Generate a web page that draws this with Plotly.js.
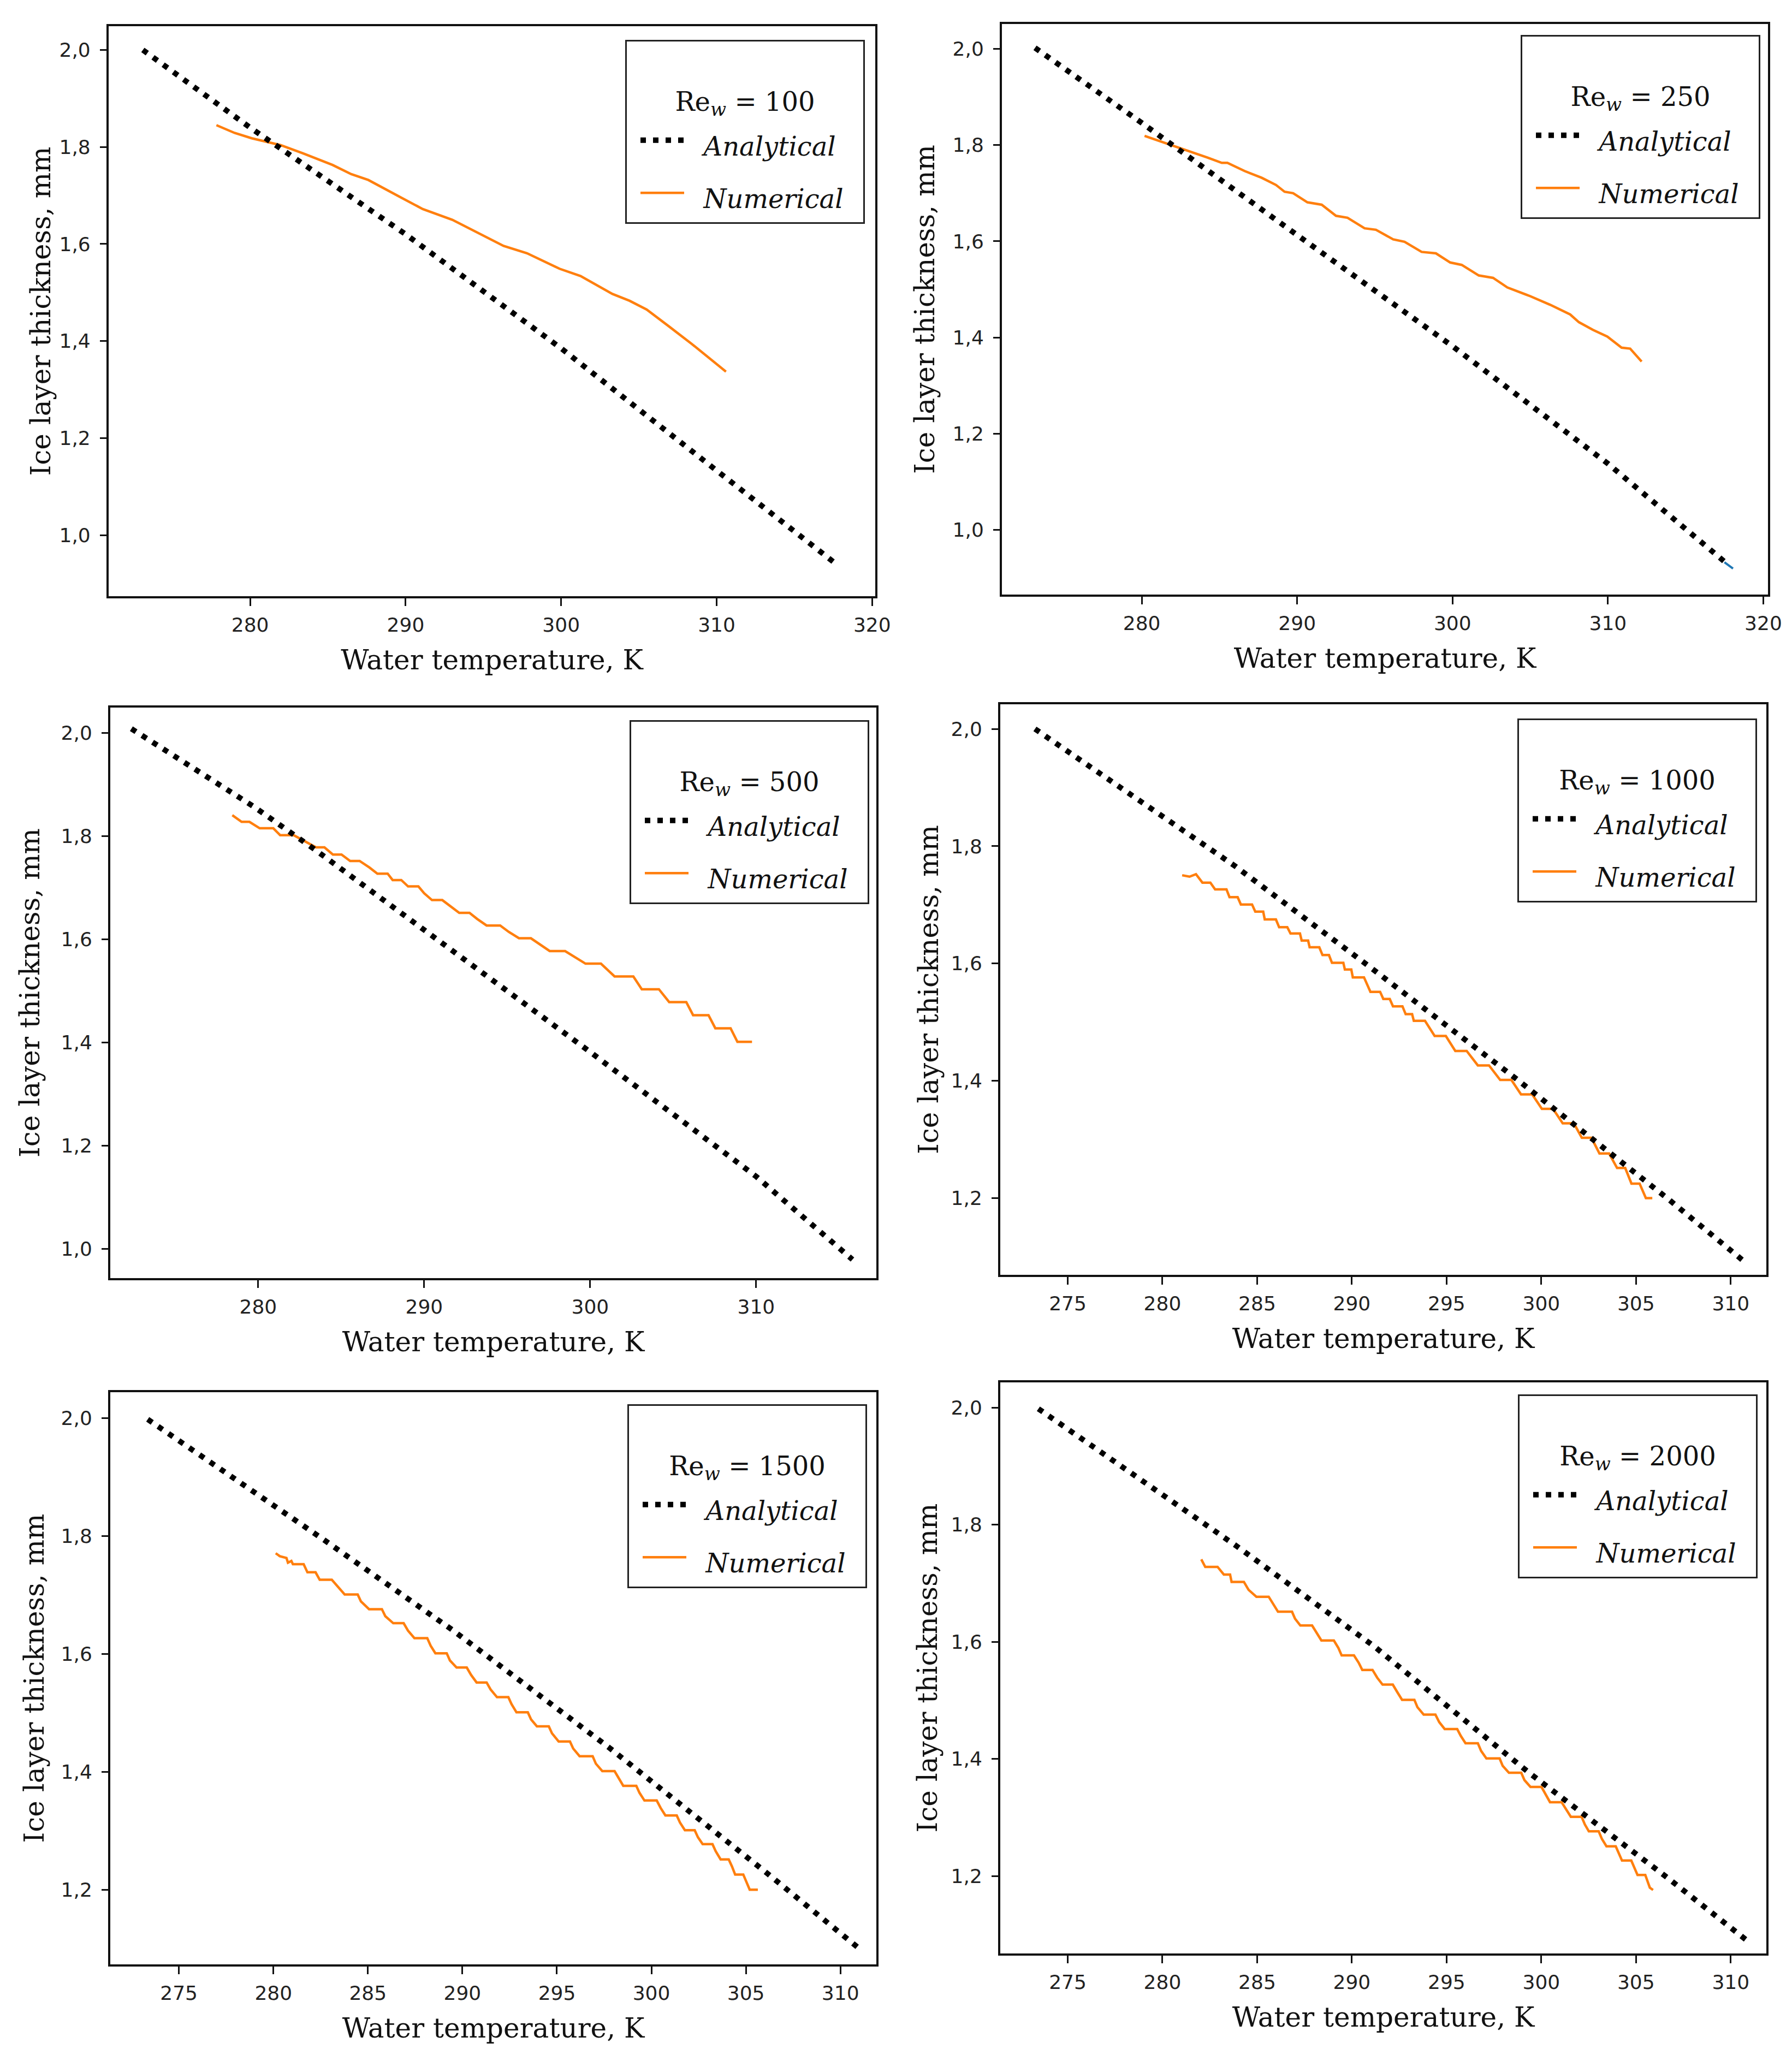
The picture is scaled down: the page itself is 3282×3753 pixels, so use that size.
<!DOCTYPE html>
<html><head><meta charset="utf-8">
<script src="https://cdn.plot.ly/plotly-3.0.1.min.js"></script>
<style>html,body{margin:0;padding:0;background:#fff}#chart{width:3282px;height:3753px}</style>
</head><body><div id="chart"></div>
<script>
// ---------- data ----------
const reynolds = [100, 250, 500, 1000, 1500, 2000];

// Analytical solutions (dotted black)
const anaX1 = [273.1, 280, 290, 300, 310, 317.7];
const anaY1 = [2.0, 1.84, 1.62, 1.385, 1.133, 0.94];
const anaX2 = [273.13, 280, 290, 300, 310, 317.7];
const anaY2 = [2.002, 1.846, 1.613, 1.382, 1.138, 0.929];
const anaX3 = [272.36, 279.78, 283.38, 289.85, 295.81, 299.93, 310, 315.8];
const anaY3 = [2.008, 1.856, 1.7745, 1.621, 1.48, 1.383, 1.14, 0.979];
const anaX4 = [273.27, 283.88, 290.98, 298.68, 306.71, 310.7];
const anaY4 = [2.0, 1.765, 1.5933, 1.4032, 1.198, 1.092];
const anaX5 = [273.35, 282.66, 289.51, 297.74, 306.14, 311.1];
const anaY5 = [1.998, 1.794, 1.64, 1.442, 1.228, 1.098];
const anaX6 = [273.45, 283.98, 291.17, 299.35, 306.71, 310.9];
const anaY6 = [1.998, 1.762, 1.5925, 1.3766, 1.196, 1.089];

// small blue remnant visible at the end of the analytical curve, Re = 250
const blueTailX2 = [317.5, 318.05];
const blueTailY2 = [0.933, 0.92];

// Numerical solutions (solid orange)
const numX1 = [277.83, 279.0, 280.1, 281.95, 283.4, 285.3, 286.5, 287.6, 289.7, 291.1, 293.0, 294.4, 296.3, 297.8, 299.9, 301.25, 303.3, 304.4, 305.5, 306.9, 308.4, 310.6];
const numY1 = [1.845, 1.829, 1.818, 1.804, 1.787, 1.763, 1.744, 1.732, 1.696, 1.672, 1.65, 1.627, 1.596, 1.581, 1.549, 1.534, 1.497, 1.483, 1.465, 1.431, 1.394, 1.337];

const numX2 = [280.18, 281.47, 282.94, 284.23, 285.15, 285.51, 286.62, 287.72, 288.64, 289.19, 289.74, 290.66, 291.58, 292.5, 293.24, 294.34, 295.07, 296.18, 296.91, 298.01, 298.93, 299.85, 300.59, 301.69, 302.61, 303.53, 305.0, 306.29, 307.57, 308.13, 309.04, 309.96, 310.88, 311.43, 312.17];
const numY2 = [1.819, 1.805, 1.789, 1.774, 1.763, 1.763, 1.746, 1.732, 1.717, 1.703, 1.7, 1.681, 1.676, 1.653, 1.649, 1.627, 1.624, 1.604, 1.599, 1.578, 1.575, 1.556, 1.551, 1.529, 1.524, 1.504, 1.486, 1.468, 1.448, 1.432, 1.416, 1.402, 1.379, 1.377, 1.35];

const numX3 = [278.44, 279.0, 279.47, 280.09, 280.91, 281.32, 282.14, 282.8, 283.48, 283.99, 284.5, 285.02, 285.54, 286.11, 286.7, 287.18, 287.8, 288.1, 288.62, 289.03, 289.65, 290.0, 290.47, 291.09, 291.6, 292.11, 292.73, 293.2, 293.76, 294.58, 295.1, 295.71, 296.43, 297.0, 297.56, 298.49, 299.1, 299.72, 300.65, 301.47, 302.6, 303.11, 304.14, 304.76, 305.79, 306.2, 307.13, 307.54, 308.46, 308.87, 309.75];
const numY3 = [1.8404, 1.8274, 1.8274, 1.815, 1.815, 1.8017, 1.8017, 1.79, 1.778, 1.778, 1.764, 1.764, 1.7516, 1.7516, 1.739, 1.727, 1.727, 1.7146, 1.7146, 1.7023, 1.7023, 1.689, 1.6758, 1.6758, 1.663, 1.651, 1.651, 1.639, 1.6265, 1.6265, 1.614, 1.6018, 1.6018, 1.589, 1.577, 1.577, 1.565, 1.5525, 1.5525, 1.5278, 1.5278, 1.503, 1.503, 1.478, 1.478, 1.4527, 1.4527, 1.4273, 1.4273, 1.401, 1.401];

const numX4 = [281.04, 281.43, 281.77, 282.11, 282.53, 282.78, 283.38, 283.54, 283.97, 284.14, 284.73, 284.9, 285.32, 285.4, 285.99, 286.16, 286.59, 286.76, 287.26, 287.35, 287.69, 287.77, 288.28, 288.45, 288.79, 288.95, 289.55, 289.63, 289.97, 290.05, 290.64, 290.98, 291.49, 291.66, 292.0, 292.17, 292.67, 292.84, 293.18, 293.27, 293.86, 294.11, 294.37, 294.96, 295.46, 296.06, 296.65, 297.24, 297.83, 298.42, 298.93, 299.52, 300.03, 300.62, 301.13, 301.72, 302.14, 302.65, 303.07, 303.58, 304.0, 304.43, 304.76, 305.19, 305.52, 305.86];
const numY4 = [1.7504, 1.748, 1.7523, 1.7378, 1.7378, 1.7264, 1.7264, 1.7131, 1.7131, 1.7006, 1.7006, 1.6884, 1.6884, 1.6751, 1.6751, 1.6618, 1.6618, 1.6512, 1.6512, 1.639, 1.639, 1.6276, 1.6276, 1.6143, 1.6143, 1.601, 1.601, 1.5896, 1.5896, 1.5763, 1.5763, 1.5516, 1.5516, 1.5394, 1.5394, 1.5269, 1.5269, 1.5136, 1.5136, 1.5022, 1.5022, 1.4889, 1.4763, 1.4763, 1.4508, 1.4508, 1.4261, 1.4261, 1.4014, 1.4014, 1.3767, 1.3767, 1.352, 1.352, 1.3273, 1.3273, 1.3026, 1.3026, 1.2759, 1.2759, 1.2512, 1.2512, 1.2246, 1.2246, 1.1999, 1.1999];

const numX5 = [280.12, 280.34, 280.69, 280.77, 280.95, 281.03, 281.6, 281.8, 282.23, 282.45, 283.09, 283.43, 283.77, 284.46, 284.63, 285.06, 285.74, 285.92, 286.34, 286.89, 287.12, 287.46, 288.14, 288.32, 288.57, 289.17, 289.34, 289.69, 290.23, 290.46, 290.75, 291.28, 291.49, 291.83, 292.43, 292.6, 292.86, 293.46, 293.63, 293.94, 294.57, 294.74, 295.09, 295.69, 295.86, 296.2, 296.89, 297.06, 297.4, 298.05, 298.26, 298.51, 299.2, 299.37, 299.63, 300.28, 300.49, 300.74, 301.34, 301.51, 301.77, 302.29, 302.46, 302.71, 303.23, 303.4, 303.66, 304.09, 304.26, 304.43, 304.86, 305.2, 305.63];
const numY5 = [1.771, 1.766, 1.763, 1.755, 1.758, 1.7525, 1.7525, 1.7387, 1.7387, 1.726, 1.726, 1.713, 1.7011, 1.7011, 1.6893, 1.6762, 1.6762, 1.6643, 1.6524, 1.6524, 1.6398, 1.6271, 1.6271, 1.6141, 1.6014, 1.6014, 1.5892, 1.5772, 1.5772, 1.5646, 1.5519, 1.5519, 1.5401, 1.527, 1.527, 1.5152, 1.5013, 1.5013, 1.4894, 1.4776, 1.4776, 1.4657, 1.4519, 1.4519, 1.44, 1.4269, 1.4269, 1.4143, 1.4016, 1.4016, 1.3897, 1.3767, 1.3767, 1.3648, 1.3518, 1.3518, 1.3391, 1.3264, 1.3264, 1.3145, 1.3015, 1.3015, 1.2896, 1.2778, 1.2778, 1.2659, 1.252, 1.252, 1.2402, 1.2263, 1.2263, 1.2006, 1.2006];

const numX6 = [282.05, 282.26, 282.91, 283.24, 283.57, 283.65, 284.3, 284.55, 284.96, 285.61, 285.86, 286.1, 286.84, 287.0, 287.28, 287.9, 288.15, 288.39, 289.05, 289.29, 289.46, 290.11, 290.36, 290.55, 291.09, 291.34, 291.62, 292.16, 292.4, 292.65, 293.3, 293.46, 293.79, 294.41, 294.61, 294.9, 295.56, 295.75, 296.0, 296.65, 296.82, 297.1, 297.8, 297.96, 298.29, 298.94, 299.11, 299.43, 300.01, 300.25, 300.46, 301.07, 301.31, 301.56, 302.13, 302.3, 302.51, 303.03, 303.2, 303.44, 303.93, 304.1, 304.26, 304.75, 304.91, 305.08, 305.49, 305.73, 305.9];
const numY6 = [1.7409, 1.728, 1.728, 1.715, 1.715, 1.7024, 1.7024, 1.6887, 1.677, 1.677, 1.664, 1.6514, 1.6514, 1.6396, 1.6279, 1.6279, 1.6149, 1.6023, 1.6023, 1.5894, 1.5769, 1.5769, 1.5643, 1.5521, 1.5521, 1.5387, 1.527, 1.527, 1.514, 1.501, 1.501, 1.4885, 1.4759, 1.4759, 1.463, 1.4512, 1.4512, 1.4394, 1.4269, 1.4269, 1.4139, 1.4009, 1.4009, 1.3883, 1.3766, 1.3766, 1.364, 1.3522, 1.3522, 1.3381, 1.3263, 1.3263, 1.3138, 1.3012, 1.3012, 1.2882, 1.2765, 1.2765, 1.2635, 1.2509, 1.2509, 1.2392, 1.2266, 1.2266, 1.2136, 1.2019, 1.2019, 1.1803, 1.1764];

// tick values
const xTicksWide = [280, 290, 300, 310, 320];
const xTicksMid = [280, 290, 300, 310];
const xTicksFine = [275, 280, 285, 290, 295, 300, 305, 310];
const yTicksFull = [1.0, 1.2, 1.4, 1.6, 1.8, 2.0];
const yTicksUpper = [1.2, 1.4, 1.6, 1.8, 2.0];

const xTitle = 'Water temperature, K';
const yTitle = 'Ice layer thickness, mm';
const anaName = 'Analytical';
const numName = 'Numerical';

const anaX = [anaX1, anaX2, anaX3, anaX4, anaX5, anaX6];
const anaY = [anaY1, anaY2, anaY3, anaY4, anaY5, anaY6];
const numX = [numX1, numX2, numX3, numX4, numX5, numX6];
const numY = [numY1, numY2, numY3, numY4, numY5, numY6];
const xTickSets = [xTicksWide, xTicksWide, xTicksMid, xTicksFine, xTicksFine, xTicksFine];
const yTickSets = [yTicksFull, yTicksFull, yTicksFull, yTicksUpper, yTicksUpper, yTicksUpper];

// ---------- layout geometry (not data) ----------
const panels = [
  {dx: [0.06063, 0.48842], dy: [0.70903, 0.98721], xr: [270.9, 320.2], yr: [0.874, 2.049], lx: 0.48263, ly: 0.98055, ysd: 1},
  {dx: [0.55911, 0.98659], dy: [0.70983, 0.98828], xr: [271.0, 320.3], yr: [0.866, 2.0515], lx: 0.98233, ly: 0.98295, ysd: 18},
  {dx: [0.06155, 0.48903], dy: [0.37623, 0.65468], xr: [271.09, 317.24], yr: [0.943, 2.049], lx: 0.48507, ly: 0.64855, ysd: 24},
  {dx: [0.5582, 0.98568], dy: [0.37783, 0.65628], xr: [271.44, 311.88], yr: [1.069, 2.042], lx: 0.9805, ly: 0.64935, ysd: 8},
  {dx: [0.06155, 0.48903], dy: [0.0413, 0.32054], xr: [271.37, 311.9], yr: [1.074, 2.044], lx: 0.48385, ly: 0.31468, ysd: 16},
  {dx: [0.5582, 0.98568], dy: [0.04663, 0.32534], xr: [271.44, 311.88], yr: [1.068, 2.043], lx: 0.9808, ly: 0.31948, ysd: 10}
];

const ORANGE = '#ff7f0e';
const INK = '#111111';
const serif = 'DejaVu Serif, Liberation Serif, serif';
const sans = 'DejaVu Sans, Liberation Sans, sans-serif';
const NB = '\u00a0';
const legendText = (s) => '<span style="font-size:48px">' + NB + NB + s + NB + NB + '</span>';
const legendTitle = (re) =>
  '<span style="font-size:48px">Re</span>' +
  '<span style="font-size:34px;font-style:italic;baseline-shift:-9px">w</span>' +
  '<span style="font-size:48px">' + NB + '= ' + re + '</span>';

const traces = [];
const layout = {
  width: 3282, height: 3753, autosize: false,
  margin: {l: 0, r: 0, t: 0, b: 0, pad: 0},
  paper_bgcolor: '#ffffff', plot_bgcolor: '#ffffff',
  separators: ', ',
  showlegend: true
};

panels.forEach((p, i) => {
  const n = i === 0 ? '' : String(i + 1);
  const xa = 'x' + n, ya = 'y' + n, lg = 'legend' + n;

  traces.push({
    x: numX[i], y: numY[i], xaxis: xa, yaxis: ya, type: 'scatter', mode: 'lines',
    name: legendText(numName), legend: lg, legendgroup: 'num' + i, legendrank: 2,
    line: {color: ORANGE, width: 4.5}, hoverinfo: 'skip'
  });
  if (i === 1) {
    traces.push({
      x: blueTailX2, y: blueTailY2, xaxis: xa, yaxis: ya, type: 'scatter', mode: 'lines',
      showlegend: false, legend: lg, line: {color: '#1f77b4', width: 4}, hoverinfo: 'skip'
    });
  }
  traces.push({
    x: anaX[i], y: anaY[i], xaxis: xa, yaxis: ya, type: 'scatter', mode: 'lines',
    name: legendText(anaName), legend: lg, legendgroup: 'ana' + i, legendrank: 1,
    line: {color: '#000000', width: 10, dash: '10px,13px'}, hoverinfo: 'skip'
  });

  layout['xaxis' + n] = {
    domain: p.dx, range: p.xr, anchor: ya,
    tickmode: 'array', tickvals: xTickSets[i],
    showgrid: false, zeroline: false,
    showline: true, mirror: true, linecolor: INK, linewidth: 4,
    ticks: 'outside', ticklen: 14, tickwidth: 3, tickcolor: INK,
    tickfont: {family: sans, size: 36, color: '#222'},
    ticklabelstandoff: 4,
    title: {text: xTitle, font: {family: serif, size: 50, color: INK}, standoff: 28}
  };
  layout['yaxis' + n] = {
    domain: p.dy, range: p.yr, anchor: xa,
    tickmode: 'array', tickvals: yTickSets[i], tickformat: '.1f',
    showgrid: false, zeroline: false,
    showline: true, mirror: true, linecolor: INK, linewidth: 4,
    ticks: 'outside', ticklen: 12, tickwidth: 3, tickcolor: INK,
    tickfont: {family: sans, size: 36, color: '#222'},
    ticklabelstandoff: 10,
    title: {text: yTitle, font: {family: serif, size: 50, color: INK}, standoff: p.ysd}
  };
  layout[lg] = {
    x: p.lx, y: p.ly, xanchor: 'right', yanchor: 'top',
    xref: 'paper', yref: 'paper',
    bgcolor: '#ffffff', bordercolor: '#222222', borderwidth: 3,
    font: {family: serif, size: 72, color: INK, style: 'italic'},
    title: {
      text: legendTitle(reynolds[i]),
      side: 'top center',
      font: {family: serif, size: 98, color: INK, style: 'normal'}
    },
    tracegroupgap: 0, itemwidth: 80, indentation: 20, traceorder: 'normal'
  };
});

Plotly.newPlot('chart', traces, layout, {staticPlot: true, displayModeBar: false});
</script>
</body></html>
